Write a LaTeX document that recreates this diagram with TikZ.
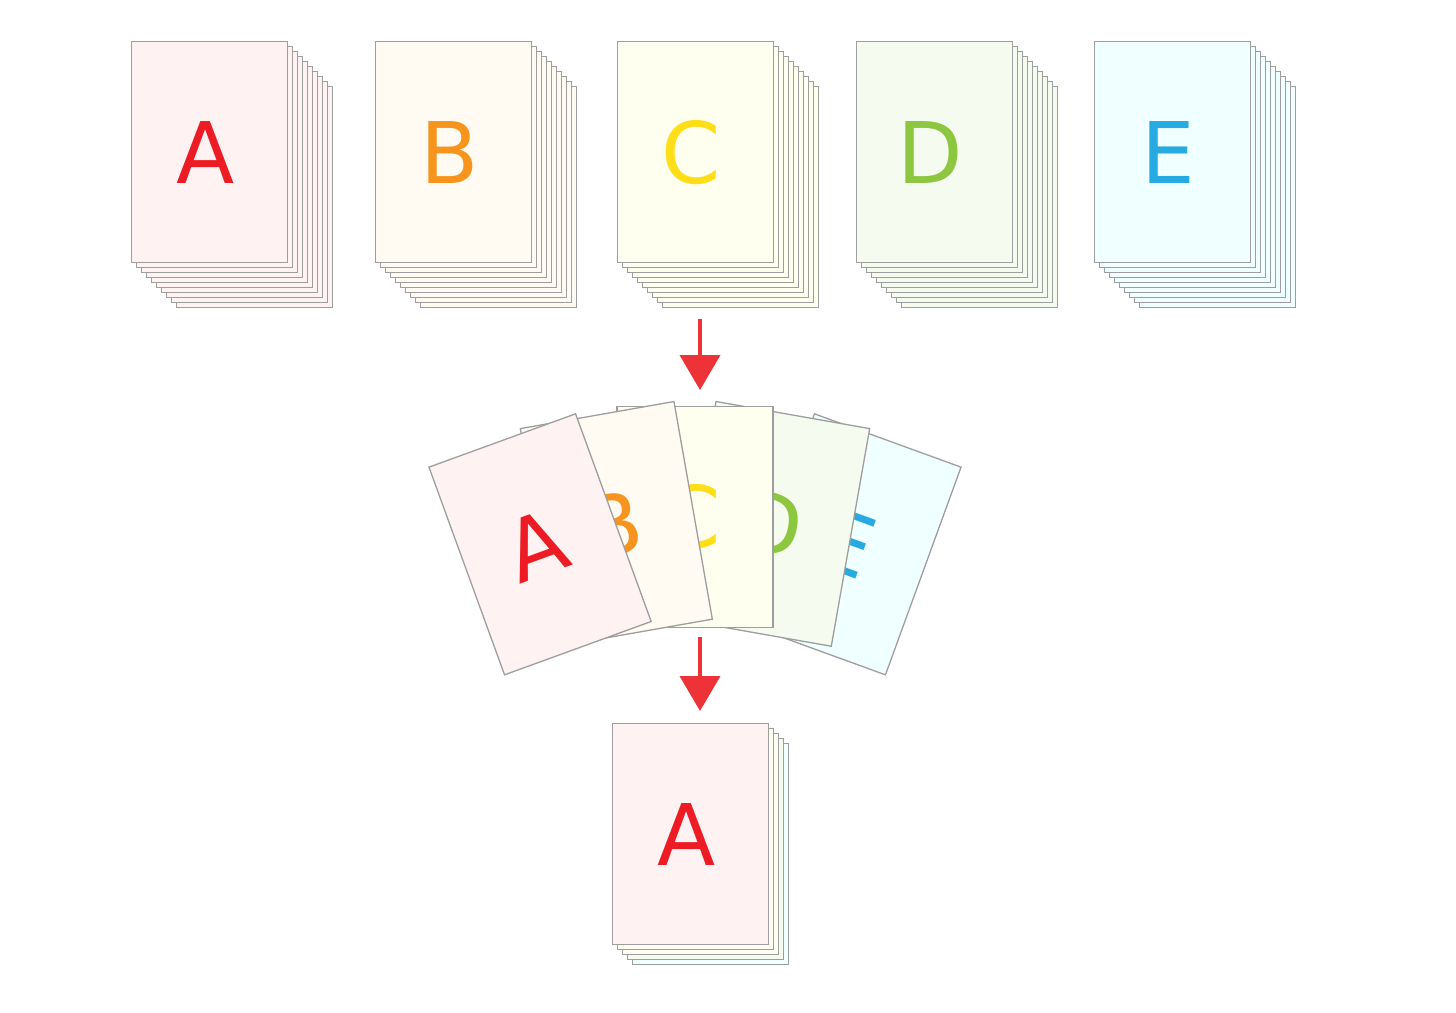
\documentclass[tikz,border=0pt]{standalone}
\usepackage{fontspec}
\setsansfont{DejaVu Sans}
\usetikzlibrary{arrows.meta,positioning}
\definecolor{paperA}{HTML}{FFF2F2}
\definecolor{paperB}{HTML}{FFFAF2}
\definecolor{paperC}{HTML}{FFFFF0}
\definecolor{paperD}{HTML}{F5FCEF}
\definecolor{paperE}{HTML}{F0FFFF}
\definecolor{inkA}{HTML}{ED1C24}
\definecolor{inkB}{HTML}{F7941D}
\definecolor{inkC}{HTML}{FFDE17}
\definecolor{inkD}{HTML}{8DC63F}
\definecolor{inkE}{HTML}{27AAE1}
\definecolor{edge}{HTML}{9E9E9E}
\definecolor{flowred}{HTML}{EE3338}
\newcommand{\sheetletter}[1]{\hspace*{-4pt}#1}
\tikzset{
	sheet/.style={
		rectangle, draw=edge, line width=0.65pt,
		minimum width=78pt, minimum height=110.5pt, inner sep=0pt,
		font=\fontsize{42.5}{42.5}\selectfont\sffamily,
	},
	flow/.style={
		draw=flowred, line width=2pt, -{Triangle[width=20pt,length=17.5pt]},
	}
}
\begin{document}
\begin{tikzpicture}[x=0.5pt, y=-0.5pt]
				\useasboundingbox (0,0) rectangle (1456,1012);
				
				% sorted piles
				\foreach \l/\xx in {A/131,B/375,C/617,D/856,E/1094}{
					\foreach \k in {9,...,1}
						\node [sheet, fill=paper\l, anchor=north west] (s\l\k) at (\xx+5*\k, 41+5*\k) {};
					\node [sheet, fill=paper\l, text=ink\l, anchor=north west] (s\l) at (\xx, 41) {\sheetletter{\l}};
				}
				
				% one of each, fanned out
				\foreach \l/\a in {E/-20,D/-10,C/0,B/10,A/20}
					\node [sheet, fill=paper\l, text=ink\l, rotate=\a] (f\l) at ({695-453*sin(\a)}, {970-453*cos(\a)}) {\sheetletter{\l}};
				
				% collated set
				\foreach \l/\k in {E/4,D/3,C/2,B/1}
					\node [sheet, fill=paper\l, anchor=north west] (b\l) at (612+5*\k, 723+5*\k) {};
				\node [sheet, fill=paperA, text=inkA, anchor=north west] (bA) at (612, 723) {\sheetletter{A}};
				
				\coordinate (in1) at (700,319);
				\coordinate (out1) at (700,390);
				\coordinate (in2) at (700,637);
				\coordinate (out2) at (700,711);
				\path [flow] (in1) -- (out1);
				\path [flow] (in2) -- (out2);
\end{tikzpicture}
\end{document}
